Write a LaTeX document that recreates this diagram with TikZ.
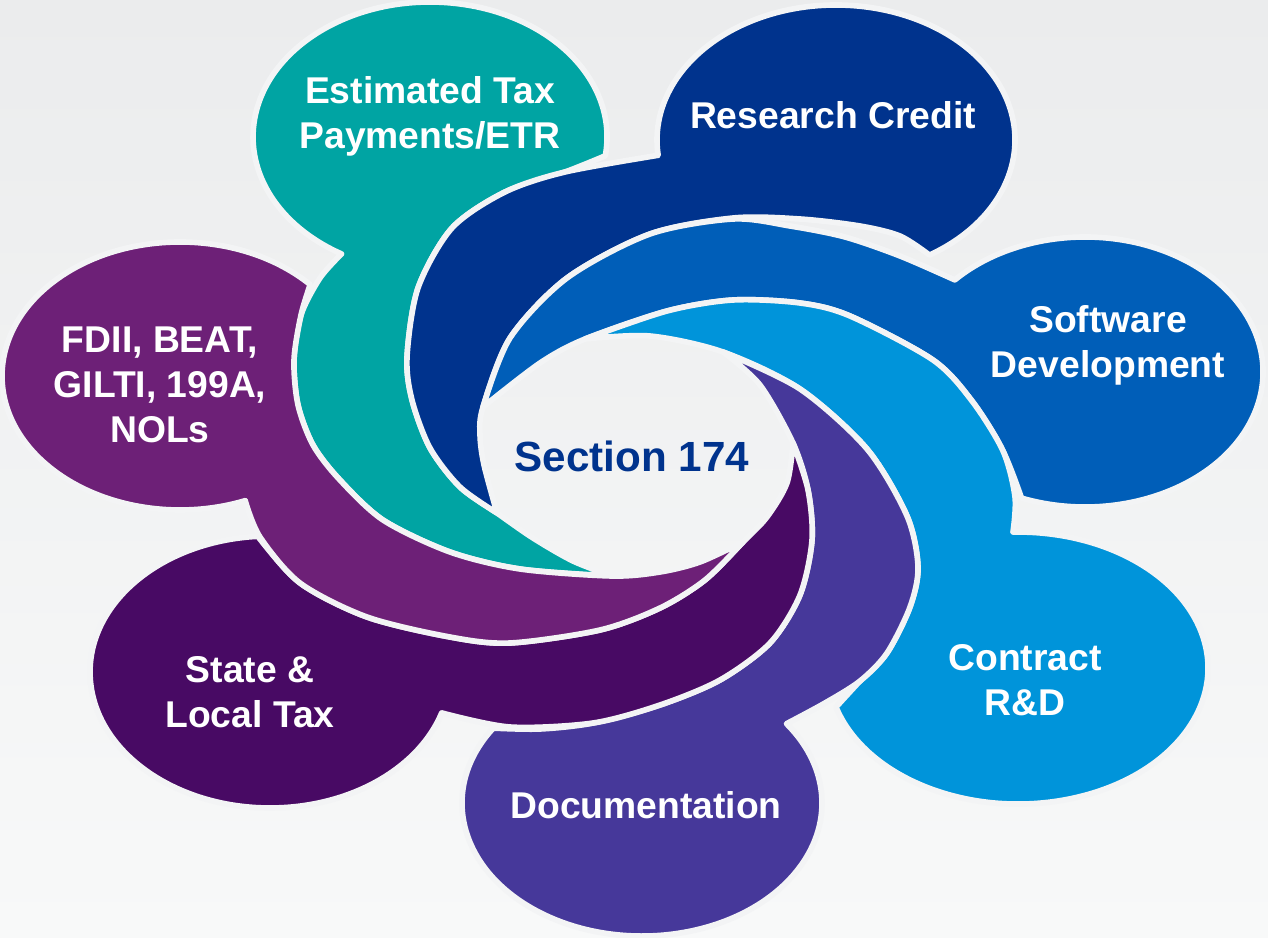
\documentclass[tikz,border=0pt]{standalone}
\usepackage{fontspec}
\setmainfont{Liberation Sans}
\usepackage{xcolor}
\definecolor{swirl-teal}{HTML}{00A4A3}
\definecolor{swirl-navy}{HTML}{00338D}
\definecolor{swirl-blue}{HTML}{005EB8}
\definecolor{swirl-sky}{HTML}{0094DA}
\definecolor{swirl-indigo}{HTML}{46389A}
\definecolor{swirl-plum}{HTML}{480A64}
\definecolor{swirl-purple}{HTML}{6D2077}
\definecolor{swirl-gap}{HTML}{F3F4F5}
\definecolor{swirl-top}{HTML}{EBECED}
\definecolor{swirl-bottom}{HTML}{F8F9F9}
\usepackage{tikz}

\tikzset{
    arm/.style={draw=swirl-gap, line width=1.6pt, line join=round},
    armlabel/.style={text=white, font=\fontsize{10.6}{12.8}\selectfont\bfseries, align=center, inner sep=0pt}
}

\begin{document}
\begin{tikzpicture}[x=0.01cm, y=-0.01cm]

    % Background
    \useasboundingbox (0,0) rectangle (1268,937);
    \shade[top color=swirl-top, bottom color=swirl-bottom] (0,0) rectangle (1268,937);

    % Estimated tax arm
    \filldraw[arm, fill=swirl-teal] (605.3,155.8)
        arc[start angle=8, end angle=-240, x radius=177, y radius=135]
        -- plot[smooth] coordinates {(341.5,253.9) (320,278) (301,315) (294,360) (298,405) (313,445) (339,479) (383,520) (450,552) (520,569) (612,576)}
        -- plot[smooth] coordinates {(612,576) (573,561) (533,538) (497,513) (460,487) (430,448) (412,400) (407,357) (418,288) (452,228) (505,192) (565,172) (605.3,155.8)}
        -- cycle;

    % Research credit arm
    \filldraw[arm, fill=swirl-navy] (929.5,255.1)
        arc[start angle=58.5, end angle=-186.5, x radius=179, y radius=135]
        -- plot[smooth] coordinates {(658.1,155.3) (565,172) (505,192) (452,228) (418,288) (407,357) (412,400) (430,448) (460,487) (497,513)}
        -- plot[smooth] coordinates {(497,513) (484,465) (480,435) (483,407) (510,338) (567,278) (650,234) (733,218) (800,219) (860,226) (900,236) (929.5,255.1)}
        -- cycle;

    % Software arm
    \filldraw[arm, fill=swirl-blue] (1021.5,498.1)
        arc[start angle=110.9, end angle=-137, x radius=178, y radius=135]
        -- plot[smooth] coordinates {(954.8,279.9) (900,256) (845,237) (790,226) (733,219) (650,234) (567,278) (510,338) (483,407)}
        -- plot[smooth] coordinates {(483,407) (540,363) (585,339) (667,311) (733,300) (800,303) (850,316) (933,360) (972,401) (1003,451) (1021.5,498.1)}
        -- cycle;

    % Contract arm
    \filldraw[arm, fill=swirl-sky] (836.0,707.1)
        arc[start angle=163.3, end angle=-91.5, x radius=190, y radius=136]
        -- plot[smooth] coordinates {(1013,532) (1015,497) (1003,451) (972,401) (933,360) (850,316) (800,303) (733,300) (667,311) (585,339)}
        -- plot[smooth] coordinates {(585,339) (650,336) (723,352) (800,389) (867,449) (907,516) (918,567) (910,607) (887,653) (860,681) (836,707.1)}
        -- cycle;

    % Documentation arm
    \filldraw[arm, fill=swirl-indigo] (493.3,728.1)
        arc[start angle=214.3, end angle=-36.6, x radius=180, y radius=133]
        -- plot[smooth] coordinates {(786.5,723.7) (825,703) (860,681) (887,653) (910,607) (918,567) (907,516) (867,449) (800,389) (723,352)}
        -- plot[smooth] coordinates {(723,352) (760,385) (793,443) (808,490) (812,540) (800,595) (770,643) (720,680) (660,705) (593,723) (540,729) (493.3,728.1)}
        -- cycle;

    % State and local arm
    \filldraw[arm, fill=swirl-plum] (257.8,536.3)
        arc[start angle=266.1, end angle=17.5, x radius=180, y radius=136]
        -- plot[smooth] coordinates {(441.7,712.9) (510,727) (593,723) (660,705) (720,680) (770,643) (800,595) (812,540) (808,490) (793,443)}
        -- plot[smooth] coordinates {(793,443) (787,483) (767,517) (743,542) (705,580) (660,608) (600,630) (510,643) (450,637) (367,617) (300,583) (257.8,536.3)}
        -- cycle;

    % FDII arm
    \filldraw[arm, fill=swirl-purple] (310.2,284.6)
        arc[start angle=-43, end angle=-291.5, x radius=178, y radius=134]
        -- plot[smooth] coordinates {(245.2,500.7) (260,537) (300,583) (367,617) (450,637) (510,643) (600,630) (660,608) (705,580) (743,542)}
        -- plot[smooth] coordinates {(743,542) (700,562) (660,572) (612,576) (520,569) (450,552) (383,520) (339,479) (313,445) (298,405) (294,360) (301,315) (310.2,284.6)}
        -- cycle;

    % Labels
    \node[armlabel] (etr) at (430,116) {Estimated Tax\\Payments/ETR};
    \node[armlabel] (credit) at (833,115) {Research Credit};
    \node[armlabel] (software) at (1108,345) {Software\\Development};
    \node[armlabel] (contract) at (1025,680) {Contract\\R\&D};
    \node[armlabel] (docs) at (646,805) {Documentation};
    \node[armlabel] (salt) at (250,692) {State \&\\Local Tax};
    \node[armlabel] (fdii) at (160,385) {FDII, BEAT,\\GILTI, 199A,\\NOLs};
    \node[text=swirl-navy, font=\fontsize{12}{14}\selectfont\bfseries, inner sep=0pt] (hub) at (632,456) {Section 174};

\end{tikzpicture}
\end{document}
